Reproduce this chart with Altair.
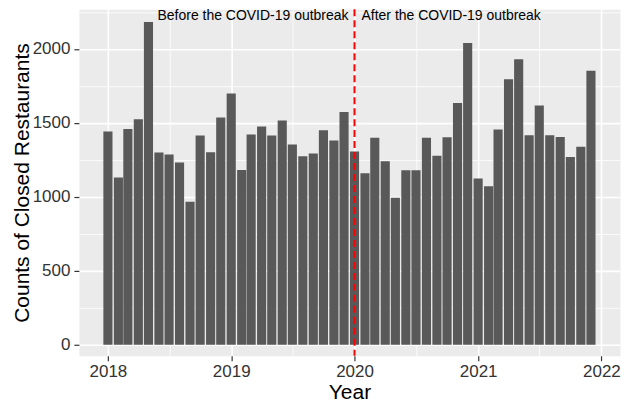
import altair as alt
import pandas as pd

# ---- data ----
months = [f"{y}-{m:02d}-01" for y in range(2018, 2022) for m in range(1, 13)]
counts = [1441, 1131, 1459, 1525, 2182, 1300, 1286, 1232, 966, 1414, 1302, 1536,
          1698, 1182, 1421, 1475, 1414, 1516, 1353, 1275, 1293, 1450, 1381, 1574,
          1306, 1160, 1399, 1241, 993, 1180, 1180, 1399, 1277, 1403, 1635, 2041,
          1124, 1072, 1455, 1795, 1930, 1417, 1617, 1417, 1405, 1270, 1338, 1853]
outbreak_date = ["2020-01-01"]
before_label = ["Before the COVID-19 outbreak"]
after_label = ["After the COVID-19 outbreak"]
y_ticks = [0, 500, 1000, 1500, 2000]
x_tick_years = [2018, 2019, 2020, 2021, 2022]

# ---- tables ----
dates = pd.to_datetime(months)
half_bar = pd.Timedelta(hours=13.5 * 24)
bars_df = pd.DataFrame({"date": dates, "start": dates - half_bar,
                        "end": dates + half_bar, "count": counts})
line_df = pd.DataFrame({"date": pd.to_datetime(outbreak_date)})
before_df = pd.DataFrame({"date": pd.to_datetime(outbreak_date), "label": before_label})
after_df = pd.DataFrame({"date": pd.to_datetime(outbreak_date), "label": after_label})

x_values = ([alt.DateTime(year=y, month=1, date=1) for y in x_tick_years] +
            [alt.DateTime(year=y, month=7, date=2) for y in x_tick_years[:-1]])
y_values = sorted(y_ticks + [v + 250 for v in y_ticks])

x_major = "month(datum.value) == 0"
y_major = "datum.value % 500 == 0"

x_scale = alt.Scale(domain=[alt.DateTime(year=2017, month=10, date=7),
                            alt.DateTime(year=2022, month=2, date=25)])
y_scale = alt.Scale(domain=[-75, 2268], nice=False, zero=False)

x_axis = alt.Axis(
    values=x_values, title="Year",
    labelExpr=f"{x_major} ? timeFormat(datum.value, '%Y') : ''",
    labelOverlap=False, labelFlush=False,
    labelFontSize={"condition": {"test": x_major, "value": 17}, "value": 0},
    gridWidth={"condition": {"test": x_major, "value": 1.6}, "value": 0.8},
    tickColor={"condition": {"test": x_major, "value": "#333333"}, "value": "transparent"},
    labelPadding=3, titlePadding=2,
)
y_axis = alt.Axis(
    values=y_values, title="Counts of Closed Restaurants", format="d",
    labelExpr=f"{y_major} ? datum.label : ''",
    labelOverlap=False,
    labelFontSize={"condition": {"test": y_major, "value": 17}, "value": 0},
    gridWidth={"condition": {"test": y_major, "value": 1.6}, "value": 0.8},
    tickColor={"condition": {"test": y_major, "value": "#333333"}, "value": "transparent"},
    labelPadding=4, titlePadding=0,
)

bars = alt.Chart(bars_df).mark_bar(color="#595959").encode(
    x=alt.X("start:T", scale=x_scale, axis=x_axis),
    x2="end:T",
    y=alt.Y("count:Q", scale=y_scale, axis=y_axis),
    y2=alt.datum(0),
)

rule = alt.Chart(line_df).mark_rule(color="#FF0000", strokeWidth=2, strokeDash=[7, 4]).encode(
    x="date:T",
)

before = alt.Chart(before_df).mark_text(align="right", baseline="middle", dx=-6,
                                         fontSize=14, color="black").encode(
    x="date:T", y=alt.value(7), text="label:N")
after = alt.Chart(after_df).mark_text(align="left", baseline="middle", dx=7,
                                       fontSize=14, color="black").encode(
    x="date:T", y=alt.value(7), text="label:N")

chart = alt.layer(bars, rule, before, after).properties(
    width=542, height=347,
    padding={"left": 3, "top": 0, "right": 0, "bottom": 0},
    background="white",
).configure(font="Liberation Sans").configure_view(
    fill="#EBEBEB", stroke="transparent"
).configure_axis(
    domain=False, grid=True, gridColor="white",
    tickSize=5, tickWidth=1.2,
    labelColor="#333333", labelFont="Liberation Sans",
    titleFontSize=21, titleFontWeight="normal", titleColor="black",
    titleFont="Liberation Sans",
)

chart.save("out.html", embed_options={"renderer": "svg", "actions": False})
